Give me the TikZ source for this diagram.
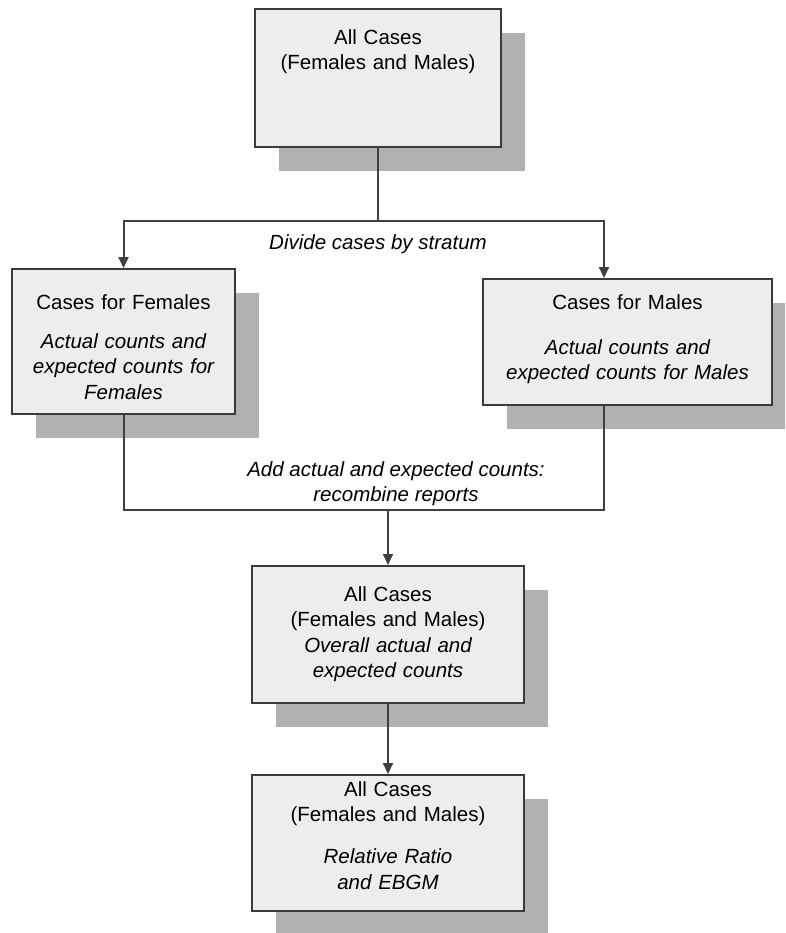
\documentclass[tikz,border=0pt]{standalone}
\usepackage{fontspec}
\setmainfont{Liberation Sans}
\usetikzlibrary{positioning, arrows.meta, shadows}
\definecolor{boxfill}{HTML}{EDEDED}
\definecolor{boxline}{HTML}{3A3A3A}
\definecolor{shade}{HTML}{B1B1B1}
\definecolor{wiregray}{HTML}{404040}

\begin{document}
\begin{tikzpicture}[x=1pt, y=-1pt,
  box/.style={draw=boxline, line width=2pt, fill=boxfill, inner sep=0pt,
              general shadow={fill=shade, shadow xshift=24pt, shadow yshift=-24pt}},
  txt/.style={inner sep=0pt, align=center, font=\fontsize{20.5}{25.5}\selectfont},
  lbl/.style={inner sep=0pt, align=center, font=\fontsize{20.5}{25.5}\selectfont\itshape},
  wire/.style={draw=wiregray, line width=2pt},
  arr/.style={wire, -{Triangle[length=11pt, width=10pt]}}]
  \useasboundingbox (0,0) rectangle (785,933);
  \clip (0,0) rectangle (785,933);
  % boxes
  \node[box, minimum width=246pt, minimum height=138pt] (allbox) at (378,78) {};
  \node[box, minimum width=223pt, minimum height=145pt] (fembox) at (123.5,341.5) {};
  \node[box, minimum width=289pt, minimum height=126pt] (malebox) at (627.5,342) {};
  \node[box, minimum width=272pt, minimum height=137pt] (sumbox) at (388,634.5) {};
  \node[box, minimum width=272pt, minimum height=136pt] (ebgmbox) at (388,843) {};
  % box texts
  \node[txt, text width=236pt, below=21.4pt of allbox.north] (alltxt) {All Cases\\(Females and Males)};
  \node[txt, text width=215pt, below=26pt of fembox.north] (femtxt) {Cases for Females\\[13.5pt]\itshape Actual counts and\\expected counts for\\Females};
  \node[txt, text width=280pt, below=16pt of malebox.north] (maletxt) {Cases for Males\\[19.5pt]\itshape Actual counts and\\expected counts for Males};
  \node[txt, text width=262pt, below=21pt of sumbox.north] (sumtxt) {All Cases\\(Females and Males)\\\itshape Overall actual and\\expected counts};
  \node[txt, text width=262pt, below=7.4pt of ebgmbox.north] (ebgmtxt) {All Cases\\(Females and Males)\\[16.5pt]\itshape Relative Ratio\\and EBGM};
  % connectors
  \coordinate (split) at (378,221);
  \coordinate (rjoin) at (604,221);
  \coordinate (rmerge) at (604,510);
  \draw[wire] (allbox.south) -- (split);
  \draw[arr] (split) -| (fembox.north);
  \draw[arr] (split) -| (rjoin |- malebox.north);
  \draw[wire] (fembox.south) |- (rmerge) -- (rmerge |- malebox.south);
  \draw[arr] (sumbox.north |- rmerge) -- (sumbox.north);
  \draw[arr] (sumbox) -- (ebgmbox);
  % labels
  \node[lbl, below=13pt of split] (divlbl) {Divide cases by stratum};
  \node[lbl, anchor=north] (addlbl) at (396,461) {Add actual and expected counts:\\recombine reports};
\end{tikzpicture}
\end{document}
